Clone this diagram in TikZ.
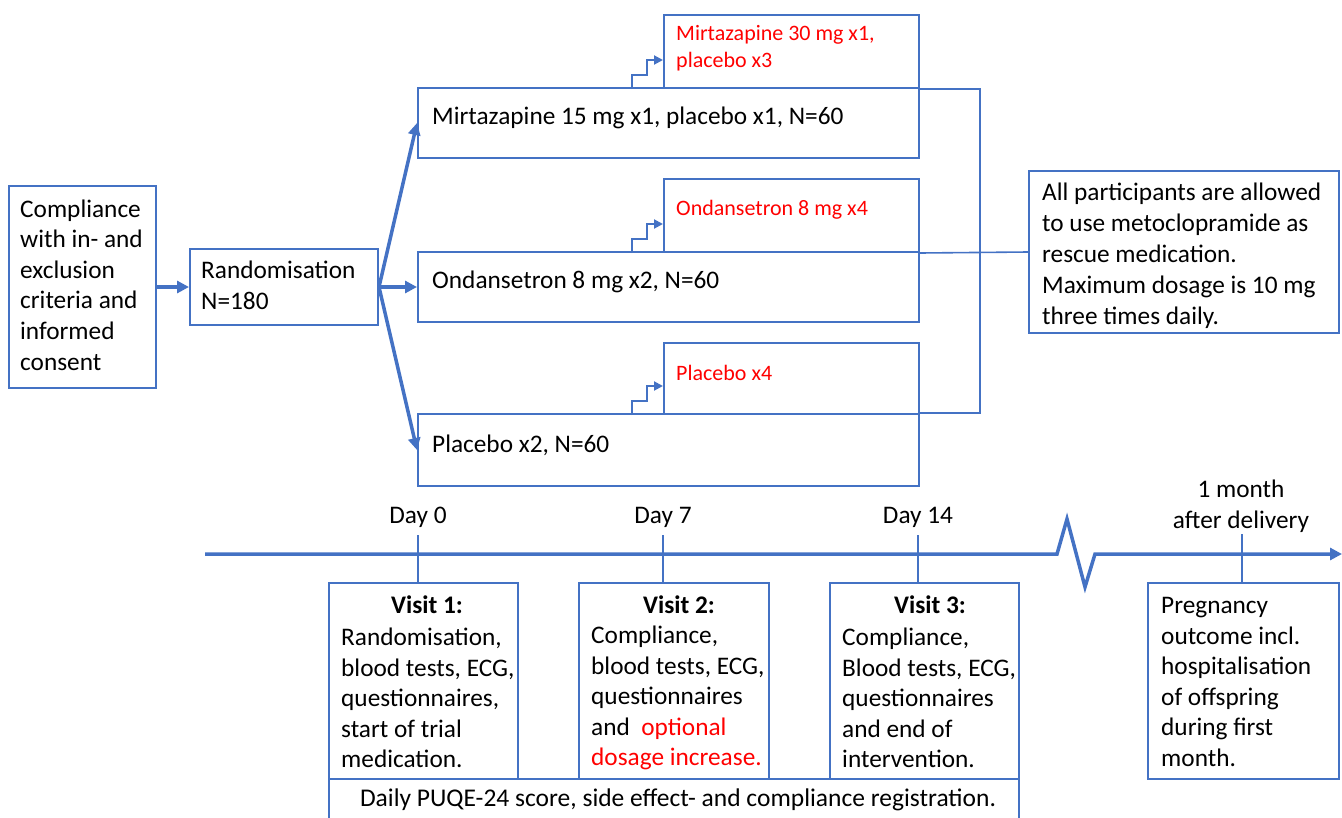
\documentclass[tikz,border=0pt]{standalone}
\usepackage{fontspec}
\setmainfont{Carlito}
\usetikzlibrary{arrows.meta,calc}
\definecolor{accblue}{HTML}{4472C4}
\definecolor{accred}{HTML}{FF0000}
\begin{document}
\begin{tikzpicture}[x=1pt,y=-1pt,
  boxnode/.style={draw=accblue, line width=2pt, inner sep=0pt, anchor=north west},
  txt/.style={inner sep=0pt, font=\fontsize{25.3}{30.6}\selectfont, align=left, anchor=west},
  ctxt/.style={inner sep=0pt, font=\fontsize{25.3}{30.6}\selectfont, align=center, anchor=center},
  htxt/.style={inner sep=0pt, font=\bfseries\fontsize{25.3}{30.6}\selectfont, anchor=center},
  redtxt/.style={inner sep=0pt, font=\fontsize{22}{26.5}\selectfont, text=accred, align=left, anchor=west},
  bigarrow/.style={draw=accblue, line width=3.5pt, -{Triangle[length=12pt,width=12pt]}},
  steparrow/.style={draw=accblue, line width=2pt, -{Triangle[length=9pt,width=9pt]}},
  thinline/.style={draw=accblue, line width=1.6pt},
]
\useasboundingbox (0,0) rectangle (1342,817);
\clip (0,0) rectangle (1342,817);

% left boxes
\node[boxnode, minimum width=147pt, minimum height=202pt] (comp) at (8,185) {};
\node[txt] (compt) at (20,285) {Compliance\\with in- and\\exclusion\\criteria and\\informed\\consent};
\node[boxnode, minimum width=188pt, minimum height=76pt] (rand) at (189,248) {};
\node[txt] (randt) at (201,285.5) {Randomisation\\N=180};

% arms
\node[boxnode, minimum width=501pt, minimum height=70pt] (mirt) at (417,87) {};
\node[txt] (mirtt) at (432,118) {Mirtazapine 15 mg x1, placebo x1, N=60};
\node[boxnode, minimum width=255pt, minimum height=73pt] (red1) at (663,14) {};
\node[redtxt] (red1t) at (676,48) {Mirtazapine 30 mg x1,\\placebo x3};

\node[boxnode, minimum width=501pt, minimum height=70pt] (onda) at (417,251) {};
\node[txt] (ondat) at (432,282) {Ondansetron 8 mg x2, N=60};
\node[boxnode, minimum width=255pt, minimum height=73pt] (red2) at (663,178) {};
\node[redtxt] (red2t) at (676,210) {Ondansetron 8 mg x4};

\node[boxnode, minimum width=501pt, minimum height=72pt] (plac) at (417,413) {};
\node[txt] (plact) at (432,445) {Placebo x2, N=60};
\node[boxnode, minimum width=255pt, minimum height=71pt] (red3) at (663,342) {};
\node[redtxt] (red3t) at (676,373) {Placebo x4};

% rescue
\node[boxnode, minimum width=310pt, minimum height=162pt] (resc) at (1028,170) {};
\node[txt, font=\fontsize{25.3}{31}\selectfont] (resct) at (1042,255.5) {All participants are allowed\\to use metoclopramide as\\rescue medication.\\Maximum dosage is 10 mg\\three times daily.};

% arrows
\draw[bigarrow] (comp.east) -- (rand.west);
\draw[bigarrow] (rand.east) -- (mirt.west);
\draw[bigarrow] (rand.east) -- (onda.west);
\draw[bigarrow] (rand.east) -- (plac.west);

\foreach \r in {red1,red2,red3}
  \draw[steparrow] ($(\r.south west)+(-31,0)$) |- ($(\r.south west)+(-16,-14)$) |- ($(\r.south west)+(0,-29)$);

\draw[thinline] (red1.south east) -- ++(60,0) |- (plac.north east);
\draw[thinline] (red2.south east) -- (resc.west);

% timeline
\coordinate (tA) at (205,554);
\coordinate (tB) at (1057,554);
\coordinate (tC) at (1067,519);
\coordinate (tD) at (1085,587);
\coordinate (tE) at (1095,554);
\coordinate (tF) at (1342,554);
\draw[bigarrow] (tA) -- (tB) -- (tC) -- (tD) -- (tE) -- (tF);

% visit boxes
\node[boxnode, minimum width=189pt, minimum height=196pt] (v1) at (328,582) {};
\node[boxnode, minimum width=190pt, minimum height=196pt] (v2) at (578,582) {};
\node[boxnode, minimum width=189pt, minimum height=196pt] (v3) at (829,582) {};
\node[boxnode, minimum width=191pt, minimum height=196pt] (preg) at (1147,582) {};
\node[boxnode, minimum width=690pt, minimum height=60pt] (daily) at (328,778) {};

\node[htxt] (v1h) at (427,605) {Visit 1:};
\node[htxt] (v2h) at (679,605) {Visit 2:};
\node[htxt] (v3h) at (930,605) {Visit 3:};
\node[txt] (v1t) at (341,698) {Randomisation,\\blood tests, ECG,\\questionnaires,\\start of trial\\medication.};
\node[txt] (v2t) at (591,698) {Compliance,\\blood tests, ECG,\\questionnaires\\and \ \textcolor{accred}{optional}\\\textcolor{accred}{dosage increase.}};
\node[txt] (v3t) at (842,698) {Compliance,\\Blood tests, ECG,\\questionnaires\\and end of\\intervention.};
\node[txt] (pregt) at (1161,682) {Pregnancy\\outcome incl.\\hospitalisation\\of offspring\\during first\\month.};
\node[inner sep=0pt, font=\fontsize{25.5}{30}\selectfont] (dailyt) at (678,800) {Daily PUQE-24 score, side effect- and compliance registration.};

% ticks and labels
\coordinate (d0) at (418,535);
\coordinate (d7) at (663,535);
\coordinate (d14) at (918,535);
\coordinate (m1) at (1242,534);
\draw[thinline] (d0) -- (d0 |- v1.north);
\draw[thinline] (d7) -- (d7 |- v2.north);
\draw[thinline] (d14) -- (d14 |- v3.north);
\draw[thinline] (m1) -- (m1 |- preg.north);
\node[ctxt] (d0l) at (418,517) {Day 0};
\node[ctxt] (d7l) at (663,517) {Day 7};
\node[ctxt] (d14l) at (918,517) {Day 14};
\node[ctxt] (m1l) at (1241,506.5) {1 month\\after delivery};
\end{tikzpicture}
\end{document}
